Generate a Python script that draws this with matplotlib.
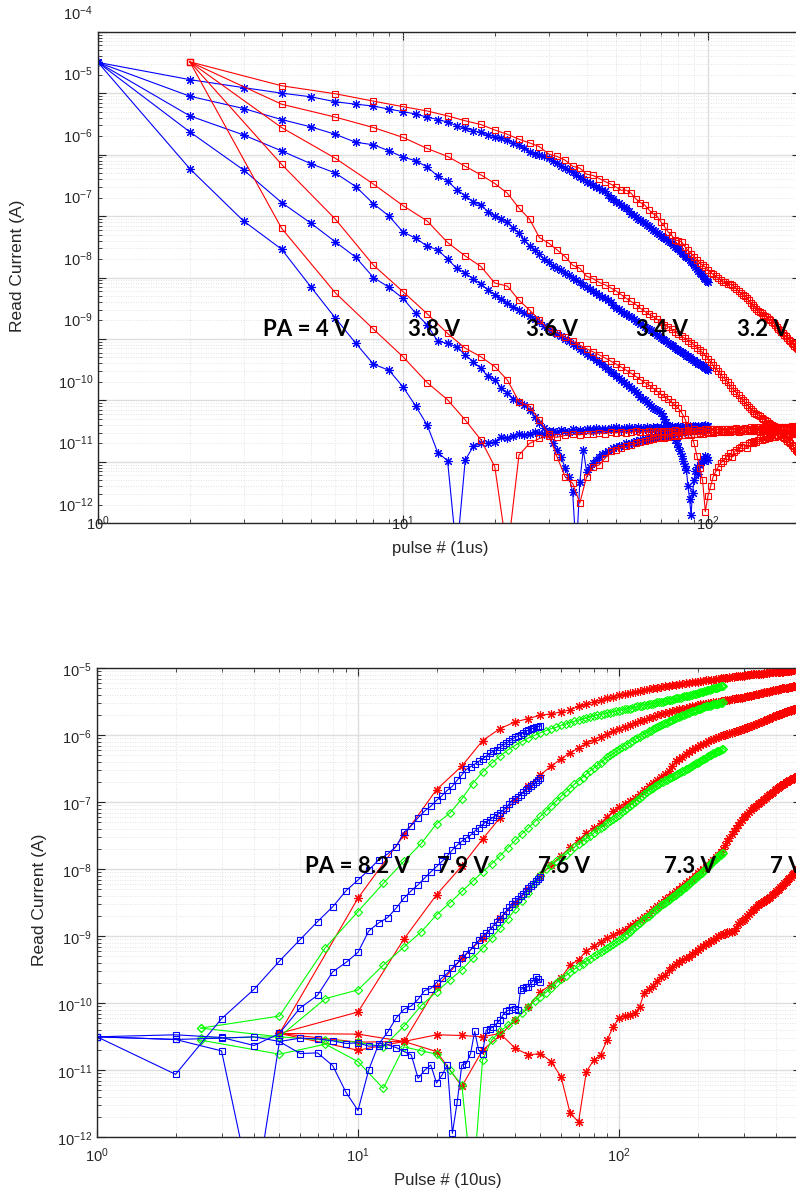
import numpy as np
import matplotlib
matplotlib.use("Agg")
import matplotlib.pyplot as plt
from matplotlib.ticker import LogLocator, NullFormatter
from matplotlib.transforms import ScaledTranslation, blended_transform_factory

plt.rcParams['font.family'] = ['Liberation Sans', 'DejaVu Sans']
plt.rcParams['mathtext.fontset'] = 'custom'
plt.rcParams['mathtext.rm'] = 'Liberation Sans'
plt.rcParams['mathtext.it'] = 'Liberation Sans:italic'
plt.rcParams['mathtext.bf'] = 'Liberation Sans:bold'

# ---------------------------------------------------------------------------
# Reset (erase) transient: pulse numbers of 1 us pulses
pulse_1us_star = np.arange(1, 101)          # every pulse
pulse_1us_square = np.arange(2, 201, 2)     # every second pulse

# log10 of read current (A) during reset, PA = 3.2 ... 4.0 V
log_i_star_32 = [
    -4.50, -4.78, -4.91, -5.00, -5.06, -5.14, -5.18, -5.21, -5.26, -5.30,
    -5.34, -5.39, -5.43, -5.47, -5.53, -5.57, -5.61, -5.64, -5.68, -5.71,
    -5.73, -5.76, -5.81, -5.84, -5.90, -5.95, -5.99, -6.01, -6.03, -6.06,
    -6.10, -6.14, -6.18, -6.21, -6.25, -6.29, -6.33, -6.36, -6.40, -6.44,
    -6.47, -6.50, -6.52, -6.55, -6.58, -6.60, -6.65, -6.70, -6.73, -6.77,
    -6.79, -6.82, -6.85, -6.87, -6.91, -6.96, -6.98, -7.01, -7.04, -7.06,
    -7.09, -7.12, -7.14, -7.17, -7.20, -7.23, -7.25, -7.28, -7.30, -7.33,
    -7.34, -7.36, -7.38, -7.40, -7.42, -7.44, -7.47, -7.50, -7.52, -7.54,
    -7.57, -7.60, -7.62, -7.65, -7.67, -7.69, -7.72, -7.74, -7.77, -7.80,
    -7.83, -7.86, -7.89, -7.92, -7.95, -7.97, -8.00, -8.02, -8.05, -8.07]
log_i_square_32 = [
    -4.49, -4.88, -5.01, -5.13, -5.22, -5.29, -5.37, -5.45, -5.51, -5.60,
    -5.67, -5.75, -5.81, -5.87, -5.99, -6.03, -6.09, -6.19, -6.22, -6.32,
    -6.34, -6.39, -6.44, -6.48, -6.53, -6.58, -6.58, -6.63, -6.72, -6.78,
    -6.82, -6.90, -6.96, -7.00, -7.09, -7.17, -7.26, -7.31, -7.39, -7.40,
    -7.42, -7.50, -7.56, -7.61, -7.66, -7.72, -7.76, -7.80, -7.83, -7.88,
    -7.92, -7.95, -7.98, -8.01, -8.04, -8.07, -8.08, -8.10, -8.11, -8.12,
    -8.15, -8.19, -8.22, -8.25, -8.28, -8.30, -8.33, -8.37, -8.41, -8.45,
    -8.48, -8.51, -8.54, -8.56, -8.58, -8.61, -8.63, -8.65, -8.67, -8.69,
    -8.72, -8.74, -8.77, -8.80, -8.83, -8.85, -8.88, -8.91, -8.94, -8.96,
    -8.99, -9.01, -9.03, -9.06, -9.09, -9.11, -9.13, -9.15, -9.17, -9.19]
log_i_star_34 = [
    -4.50, -5.05, -5.25, -5.43, -5.55, -5.67, -5.80, -5.84, -5.94, -6.04,
    -6.10, -6.20, -6.35, -6.43, -6.57, -6.67, -6.77, -6.82, -6.93, -7.00,
    -7.04, -7.09, -7.20, -7.28, -7.39, -7.49, -7.55, -7.62, -7.70, -7.75,
    -7.82, -7.85, -7.88, -7.92, -7.96, -8.00, -8.04, -8.08, -8.12, -8.15,
    -8.19, -8.22, -8.25, -8.28, -8.31, -8.34, -8.37, -8.40, -8.45, -8.49,
    -8.51, -8.54, -8.57, -8.59, -8.62, -8.64, -8.67, -8.70, -8.72, -8.75,
    -8.77, -8.80, -8.82, -8.84, -8.86, -8.88, -8.91, -8.93, -8.95, -8.98,
    -9.00, -9.02, -9.04, -9.06, -9.08, -9.10, -9.12, -9.14, -9.16, -9.18,
    -9.20, -9.22, -9.23, -9.25, -9.27, -9.28, -9.30, -9.32, -9.34, -9.35,
    -9.37, -9.38, -9.40, -9.41, -9.43, -9.44, -9.46, -9.47, -9.49, -9.50]
log_i_square_34 = [
    -4.49, -5.18, -5.39, -5.56, -5.72, -5.90, -6.03, -6.19, -6.33, -6.47,
    -6.63, -6.87, -7.05, -7.35, -7.44, -7.55, -7.66, -7.80, -7.85, -7.98,
    -8.02, -8.08, -8.12, -8.17, -8.22, -8.28, -8.34, -8.39, -8.44, -8.50,
    -8.55, -8.60, -8.63, -8.68, -8.72, -8.77, -8.80, -8.84, -8.88, -8.92,
    -8.96, -8.99, -9.03, -9.06, -9.10, -9.14, -9.18, -9.22, -9.27, -9.32,
    -9.37, -9.43, -9.48, -9.52, -9.57, -9.62, -9.66, -9.70, -9.75, -9.80,
    -9.84, -9.88, -9.92, -9.96, -10.00, -10.03, -10.07, -10.10, -10.14, -10.17,
    -10.20, -10.22, -10.24, -10.26, -10.28, -10.30, -10.32, -10.34, -10.36, -10.38,
    -10.40, -10.42, -10.44, -10.47, -10.50, -10.53, -10.56, -10.59, -10.61, -10.63,
    -10.66, -10.68, -10.70, -10.73, -10.75, -10.78, -10.80, -10.82, -10.84, -10.86]
log_i_star_36 = [
    -4.50, -5.37, -5.68, -5.94, -6.15, -6.30, -6.52, -6.80, -7.00, -7.26,
    -7.36, -7.49, -7.55, -7.70, -7.85, -7.93, -8.02, -8.11, -8.20, -8.28,
    -8.35, -8.42, -8.48, -8.53, -8.58, -8.63, -8.68, -8.73, -8.79, -8.84,
    -8.88, -8.92, -8.96, -9.00, -9.04, -9.08, -9.12, -9.16, -9.20, -9.24,
    -9.27, -9.30, -9.34, -9.38, -9.41, -9.45, -9.49, -9.53, -9.56, -9.60,
    -9.63, -9.66, -9.70, -9.73, -9.76, -9.80, -9.83, -9.86, -9.90, -9.94,
    -9.97, -10.00, -10.03, -10.06, -10.09, -10.12, -10.14, -10.16, -10.18, -10.21,
    -10.25, -10.30, -10.35, -10.41, -10.46, -10.52, -10.58, -10.64, -10.70, -10.76,
    -10.83, -10.90, -10.98, -11.06, -11.14, -11.40, -11.60, -11.87, -11.50, -11.30,
    -11.15, -11.09, -11.20, -11.05, -11.00, -10.95, -10.98, -10.90, -10.92, -10.97]
log_i_square_36 = [
    -4.49, -5.56, -6.06, -6.48, -6.83, -7.08, -7.43, -7.65, -7.82, -8.09,
    -8.14, -8.37, -8.53, -8.69, -8.85, -8.90, -8.97, -9.04, -9.10, -9.16,
    -9.21, -9.26, -9.31, -9.36, -9.41, -9.46, -9.51, -9.56, -9.61, -9.66,
    -9.71, -9.75, -9.80, -9.85, -9.90, -9.94, -9.98, -10.03, -10.08, -10.13,
    -10.20, -10.30, -10.42, -10.55, -10.70, -10.90, -11.10, -11.30, -11.81, -11.55,
    -11.40, -11.24, -11.16, -11.08, -11.02, -10.98, -10.94, -10.90, -10.86, -10.92,
    -10.84, -10.80, -10.78, -10.76, -10.73, -10.72, -10.78, -10.70, -10.68, -10.70,
    -10.66, -10.68, -10.64, -10.62, -10.65, -10.60, -10.63, -10.59, -10.61, -10.58,
    -10.60, -10.57, -10.59, -10.56, -10.58, -10.55, -10.57, -10.54, -10.56, -10.55,
    -10.53, -10.56, -10.54, -10.52, -10.55, -10.53, -10.54, -10.52, -10.55, -10.53]
log_i_star_38 = [
    -4.50, -5.63, -6.25, -6.78, -7.12, -7.42, -7.67, -8.00, -8.16, -8.34,
    -8.58, -8.77, -9.04, -9.07, -9.13, -9.26, -9.37, -9.48, -9.61, -9.66,
    -9.80, -9.88, -9.97, -10.02, -10.07, -10.16, -10.27, -10.37, -10.45, -10.56,
    -10.70, -10.81, -10.92, -11.10, -11.24, -11.49, -12.50, -11.32, -10.80, -11.16,
    -11.08, -11.02, -10.97, -10.92, -10.88, -10.85, -10.82, -10.80, -10.78, -10.76,
    -10.75, -10.74, -10.72, -10.70, -10.71, -10.69, -10.68, -10.66, -10.67, -10.65,
    -10.64, -10.63, -10.64, -10.62, -10.60, -10.61, -10.59, -10.60, -10.58, -10.57,
    -10.58, -10.56, -10.55, -10.57, -10.54, -10.55, -10.53, -10.54, -10.52, -10.53,
    -10.51, -10.53, -10.50, -10.52, -10.50, -10.51, -10.49, -10.50, -10.48, -10.50,
    -10.48, -10.49, -10.47, -10.49, -10.46, -10.48, -10.47, -10.45, -10.47, -10.46]
log_i_square_38 = [
    -4.49, -6.16, -7.05, -7.80, -8.23, -8.59, -8.91, -9.15, -9.29, -9.45,
    -9.67, -10.02, -10.10, -10.32, -10.54, -10.92, -11.24, -11.35, -11.67, -11.24,
    -11.08, -11.05, -10.94, -10.83, -10.80, -10.77, -10.75, -10.72, -10.70, -10.68,
    -10.66, -10.65, -10.63, -10.62, -10.60, -10.61, -10.59, -10.58, -10.57, -10.58,
    -10.56, -10.57, -10.55, -10.56, -10.54, -10.55, -10.53, -10.54, -10.52, -10.53,
    -10.52, -10.53, -10.51, -10.52, -10.50, -10.52, -10.51, -10.49, -10.51, -10.50,
    -10.50, -10.49, -10.51, -10.48, -10.50, -10.49, -10.50, -10.48, -10.49, -10.50,
    -10.48, -10.49, -10.47, -10.49, -10.48, -10.50, -10.47, -10.48, -10.49, -10.47,
    -10.48, -10.46, -10.48, -10.47, -10.49, -10.46, -10.48, -10.47, -10.46, -10.48,
    -10.47, -10.46, -10.48, -10.45, -10.47, -10.46, -10.48, -10.45, -10.47, -10.46]
log_i_star_40 = [
    -4.50, -6.23, -7.08, -7.54, -8.16, -8.66, -9.07, -9.41, -9.51, -9.78,
    -10.09, -10.40, -10.85, -10.98, -12.50, -10.97, -10.75, -10.70, -10.70, -10.67,
    -10.59, -10.62, -10.58, -10.55, -10.57, -10.54, -10.52, -10.53, -10.55, -10.50,
    -10.49, -10.52, -10.48, -10.50, -10.51, -10.47, -10.49, -10.48, -10.50, -10.46,
    -10.47, -10.49, -10.45, -10.48, -10.47, -10.46, -10.48, -10.45, -10.47, -10.44,
    -10.46, -10.48, -10.45, -10.47, -10.44, -10.46, -10.45, -10.47, -10.43, -10.46,
    -10.45, -10.47, -10.44, -10.45, -10.46, -10.43, -10.45, -10.44, -10.46, -10.43,
    -10.44, -10.45, -10.43, -10.46, -10.44, -10.42, -10.45, -10.43, -10.44, -10.42,
    -10.44, -10.43, -10.45, -10.42, -10.44, -10.43, -10.41, -10.44, -10.42, -10.43,
    -10.41, -10.43, -10.42, -10.44, -10.41, -10.43, -10.42, -10.40, -10.42, -10.41]
log_i_square_40 = [
    -4.49, -7.20, -8.25, -8.84, -9.29, -9.71, -9.99, -10.32, -10.64, -11.08,
    -12.50, -10.89, -10.70, -10.62, -10.58, -10.60, -10.57, -10.55, -10.56, -10.54,
    -10.55, -10.53, -10.54, -10.52, -10.53, -10.51, -10.53, -10.52, -10.50, -10.52,
    -10.51, -10.50, -10.52, -10.49, -10.51, -10.50, -10.49, -10.51, -10.48, -10.50,
    -10.49, -10.50, -10.48, -10.49, -10.47, -10.49, -10.48, -10.50, -10.47, -10.48,
    -10.47, -10.49, -10.46, -10.48, -10.47, -10.49, -10.46, -10.47, -10.48, -10.46,
    -10.47, -10.45, -10.48, -10.46, -10.47, -10.45, -10.47, -10.46, -10.44, -10.47,
    -10.45, -10.46, -10.44, -10.47, -10.45, -10.46, -10.44, -10.46, -10.45, -10.43,
    -10.46, -10.44, -10.45, -10.43, -10.46, -10.44, -10.45, -10.43, -10.44, -10.45,
    -10.43, -10.45, -10.44, -10.42, -10.45, -10.43, -10.44, -10.42, -10.44, -10.43]

reset_labels = ['PA = 4 V', '3.8 V', '3.6 V', '3.4 V', '3.2 V']

# ---------------------------------------------------------------------------
# Set (program) transient: pulse numbers of 10 us pulses
pulse_10us_square = np.arange(1, 51)
pulse_10us_diamond = np.arange(1, 101) * 2.5
pulse_10us_star = np.arange(1, 101) * 5

# log10 of read current (A) during set, PA = 7.0 ... 8.2 V
log_i_sq_82 = [
    -10.50, -11.06, -10.23, -9.79, -9.37, -9.05, -8.78, -8.56, -8.32, -8.16,
    -8.01, -7.86, -7.77, -7.66, -7.45, -7.35, -7.23, -7.13, -7.06, -6.97,
    -6.90, -6.82, -6.76, -6.67, -6.59, -6.51, -6.47, -6.43, -6.39, -6.35,
    -6.31, -6.27, -6.24, -6.22, -6.18, -6.15, -6.12, -6.09, -6.06, -6.03,
    -6.01, -5.99, -5.96, -5.94, -5.92, -5.91, -5.89, -5.88, -5.87, -5.86]
log_i_sq_79 = [
    -10.50, -10.47, -10.51, -10.63, -10.45, -10.07, -9.88, -9.53, -9.39, -9.24,
    -8.92, -8.80, -8.72, -8.58, -8.43, -8.32, -8.23, -8.13, -8.04, -7.96,
    -7.88, -7.80, -7.71, -7.64, -7.58, -7.53, -7.49, -7.43, -7.38, -7.33,
    -7.29, -7.26, -7.22, -7.19, -7.16, -7.12, -7.08, -7.02, -6.98, -6.95,
    -6.92, -6.89, -6.85, -6.82, -6.79, -6.76, -6.73, -6.70, -6.67, -6.64]
log_i_sq_76 = [
    -10.50, -10.54, -10.71, -13.00, -10.57, -10.75, -10.74, -10.93, -11.33, -11.60,
    -10.99, -10.61, -10.43, -10.22, -10.09, -10.04, -9.94, -9.81, -9.78, -9.69,
    -9.62, -9.55, -9.47, -9.40, -9.33, -9.26, -9.20, -9.13, -9.06, -9.00,
    -8.95, -8.90, -8.84, -8.79, -8.74, -8.68, -8.62, -8.57, -8.52, -8.48,
    -8.44, -8.40, -8.37, -8.33, -8.28, -8.25, -8.22, -8.17, -8.14, -8.11]
log_i_sq_73 = [
    -10.50, -10.54, -10.52, -10.50, -10.57, -10.52, -10.53, -10.56, -10.60, -10.59,
    -10.64, -10.63, -10.62, -10.66, -10.72, -10.77, -11.12, -11.00, -10.92, -11.19,
    -11.07, -10.92, -11.94, -11.47, -10.92, -10.90, -10.75, -10.42, -10.70, -10.75,
    -10.40, -10.38, -10.35, -10.30, -10.25, -10.17, -10.12, -10.10, -10.05, -10.08,
    -10.10, -9.80, -9.77, -9.76, -9.75, -9.70, -9.66, -9.61, -9.64, -9.68]

log_i_dia_82 = [
    -10.37, -10.19, -9.17, -8.63, -8.21, -7.88, -7.61, -7.32, -7.16, -6.95,
    -6.72, -6.55, -6.42, -6.31, -6.22, -6.15, -6.09, -6.04, -6.00, -5.96,
    -5.93, -5.90, -5.88, -5.85, -5.83, -5.81, -5.79, -5.77, -5.76, -5.74,
    -5.72, -5.71, -5.70, -5.69, -5.68, -5.67, -5.66, -5.65, -5.64, -5.63,
    -5.62, -5.61, -5.60, -5.60, -5.59, -5.58, -5.57, -5.57, -5.56, -5.55,
    -5.55, -5.54, -5.53, -5.53, -5.52, -5.51, -5.51, -5.50, -5.50, -5.49,
    -5.48, -5.48, -5.47, -5.47, -5.46, -5.45, -5.45, -5.44, -5.44, -5.43,
    -5.42, -5.42, -5.41, -5.41, -5.40, -5.40, -5.39, -5.38, -5.38, -5.37,
    -5.37, -5.36, -5.35, -5.35, -5.34, -5.34, -5.33, -5.33, -5.32, -5.31,
    -5.31, -5.30, -5.30, -5.29, -5.29, -5.28, -5.28, -5.27, -5.27, -5.26]
log_i_dia_79 = [
    -10.52, -10.50, -9.93, -9.80, -9.43, -9.16, -8.93, -8.68, -8.50, -8.33,
    -8.18, -8.04, -7.92, -7.80, -7.68, -7.57, -7.47, -7.38, -7.29, -7.21,
    -7.13, -7.05, -6.98, -6.91, -6.85, -6.79, -6.73, -6.68, -6.63, -6.58,
    -6.53, -6.49, -6.45, -6.41, -6.37, -6.33, -6.30, -6.27, -6.24, -6.21,
    -6.18, -6.16, -6.13, -6.11, -6.08, -6.06, -6.04, -6.02, -6.00, -5.98,
    -5.96, -5.94, -5.93, -5.91, -5.89, -5.88, -5.86, -5.85, -5.83, -5.82,
    -5.81, -5.79, -5.78, -5.77, -5.76, -5.74, -5.73, -5.72, -5.71, -5.70,
    -5.69, -5.68, -5.67, -5.66, -5.65, -5.64, -5.63, -5.63, -5.62, -5.61,
    -5.60, -5.60, -5.59, -5.58, -5.58, -5.57, -5.57, -5.56, -5.56, -5.55,
    -5.55, -5.54, -5.54, -5.53, -5.53, -5.53, -5.52, -5.52, -5.52, -5.51]
log_i_dia_76 = [
    -10.37, -10.50, -10.55, -10.58, -10.65, -10.34, -10.03, -9.83, -9.65, -9.50,
    -9.33, -9.18, -9.03, -8.88, -8.74, -8.60, -8.47, -8.35, -8.21, -8.08,
    -8.00, -7.93, -7.88, -7.83, -7.78, -7.72, -7.67, -7.62, -7.58, -7.54,
    -7.50, -7.46, -7.42, -7.38, -7.35, -7.31, -7.28, -7.25, -7.22, -7.19,
    -7.15, -7.12, -7.08, -7.05, -7.02, -6.99, -6.96, -6.93, -6.91, -6.88,
    -6.85, -6.82, -6.80, -6.78, -6.76, -6.74, -6.72, -6.70, -6.69, -6.67,
    -6.66, -6.64, -6.63, -6.62, -6.60, -6.59, -6.58, -6.57, -6.55, -6.54,
    -6.53, -6.51, -6.50, -6.49, -6.47, -6.46, -6.45, -6.43, -6.42, -6.41,
    -6.40, -6.38, -6.37, -6.36, -6.35, -6.34, -6.33, -6.31, -6.30, -6.29,
    -6.28, -6.27, -6.26, -6.25, -6.24, -6.24, -6.23, -6.22, -6.21, -6.20]
log_i_dia_73 = [
    -10.55, -10.76, -10.61, -10.87, -11.27, -10.65, -10.71, -10.76, -11.00, -11.22,
    -12.80, -10.85, -10.55, -10.42, -10.33, -10.25, -10.15, -10.05, -9.97, -9.90,
    -9.84, -9.77, -9.70, -9.63, -9.59, -9.54, -9.49, -9.45, -9.41, -9.37,
    -9.34, -9.30, -9.27, -9.24, -9.21, -9.18, -9.15, -9.12, -9.09, -9.06,
    -9.03, -8.99, -8.96, -8.93, -8.89, -8.86, -8.83, -8.80, -8.77, -8.74,
    -8.71, -8.69, -8.66, -8.64, -8.61, -8.59, -8.56, -8.54, -8.52, -8.50,
    -8.48, -8.46, -8.44, -8.42, -8.40, -8.38, -8.36, -8.34, -8.32, -8.30,
    -8.28, -8.26, -8.24, -8.22, -8.20, -8.18, -8.16, -8.14, -8.12, -8.10,
    -8.09, -8.07, -8.05, -8.03, -8.01, -7.99, -7.97, -7.95, -7.93, -7.91,
    -7.89, -7.88, -7.86, -7.84, -7.82, -7.81, -7.79, -7.78, -7.76, -7.75]

log_i_st_82 = [
    -10.45, -8.43, -7.49, -6.81, -6.46, -6.08, -5.90, -5.80, -5.75, -5.70,
    -5.68, -5.65, -5.62, -5.57, -5.54, -5.50, -5.48, -5.45, -5.43, -5.40,
    -5.39, -5.37, -5.36, -5.34, -5.32, -5.31, -5.30, -5.29, -5.28, -5.27,
    -5.26, -5.25, -5.25, -5.24, -5.23, -5.22, -5.22, -5.21, -5.21, -5.20,
    -5.19, -5.19, -5.18, -5.18, -5.17, -5.17, -5.16, -5.16, -5.15, -5.15,
    -5.14, -5.14, -5.13, -5.13, -5.13, -5.12, -5.12, -5.11, -5.11, -5.11,
    -5.10, -5.10, -5.10, -5.09, -5.09, -5.09, -5.09, -5.08, -5.08, -5.08,
    -5.08, -5.07, -5.07, -5.07, -5.07, -5.06, -5.06, -5.06, -5.06, -5.06,
    -5.05, -5.05, -5.05, -5.05, -5.05, -5.04, -5.04, -5.04, -5.04, -5.04,
    -5.04, -5.03, -5.03, -5.03, -5.03, -5.03, -5.03, -5.02, -5.02, -5.02]
log_i_st_79 = [
    -10.45, -10.13, -9.04, -8.38, -7.95, -7.55, -7.23, -6.97, -6.76, -6.59,
    -6.46, -6.35, -6.26, -6.19, -6.12, -6.07, -6.02, -5.98, -5.94, -5.90,
    -5.87, -5.84, -5.81, -5.79, -5.77, -5.74, -5.72, -5.70, -5.68, -5.66,
    -5.65, -5.63, -5.62, -5.61, -5.60, -5.59, -5.58, -5.57, -5.56, -5.55,
    -5.54, -5.54, -5.53, -5.52, -5.52, -5.51, -5.50, -5.50, -5.49, -5.49,
    -5.48, -5.48, -5.47, -5.46, -5.46, -5.45, -5.45, -5.44, -5.44, -5.43,
    -5.43, -5.42, -5.42, -5.41, -5.40, -5.40, -5.39, -5.39, -5.38, -5.37,
    -5.37, -5.36, -5.36, -5.35, -5.35, -5.34, -5.34, -5.33, -5.33, -5.32,
    -5.32, -5.31, -5.31, -5.30, -5.30, -5.30, -5.29, -5.29, -5.29, -5.28,
    -5.28, -5.28, -5.27, -5.27, -5.27, -5.26, -5.26, -5.26, -5.26, -5.25]
log_i_st_76 = [
    -10.45, -10.58, -10.57, -9.76, -9.33, -9.03, -8.73, -8.51, -8.30, -8.10,
    -7.93, -7.80, -7.67, -7.56, -7.46, -7.38, -7.31, -7.22, -7.13, -7.07,
    -7.02, -6.98, -6.94, -6.87, -6.82, -6.76, -6.71, -6.66, -6.62, -6.58,
    -6.53, -6.46, -6.39, -6.35, -6.32, -6.28, -6.25, -6.22, -6.19, -6.17,
    -6.15, -6.13, -6.11, -6.09, -6.07, -6.06, -6.04, -6.03, -6.01, -6.00,
    -5.99, -5.98, -5.97, -5.96, -5.95, -5.94, -5.93, -5.92, -5.91, -5.90,
    -5.89, -5.88, -5.87, -5.86, -5.85, -5.84, -5.83, -5.82, -5.81, -5.80,
    -5.79, -5.78, -5.77, -5.76, -5.75, -5.74, -5.73, -5.72, -5.71, -5.70,
    -5.70, -5.69, -5.68, -5.67, -5.67, -5.66, -5.65, -5.64, -5.64, -5.63,
    -5.63, -5.62, -5.61, -5.61, -5.60, -5.60, -5.59, -5.59, -5.58, -5.58]
log_i_st_73 = [
    -10.45, -10.70, -10.57, -10.72, -11.24, -10.70, -10.48, -10.25, -10.05, -9.83,
    -9.72, -9.62, -9.43, -9.35, -9.22, -9.15, -9.08, -9.02, -8.98, -8.94,
    -8.90, -8.85, -8.80, -8.76, -8.71, -8.65, -8.60, -8.55, -8.50, -8.45,
    -8.41, -8.37, -8.33, -8.29, -8.25, -8.21, -8.18, -8.14, -8.10, -8.06,
    -8.03, -7.99, -7.96, -7.93, -7.89, -7.86, -7.82, -7.78, -7.74, -7.70,
    -7.64, -7.58, -7.53, -7.48, -7.43, -7.38, -7.34, -7.30, -7.26, -7.22,
    -7.20, -7.17, -7.14, -7.11, -7.09, -7.07, -7.05, -7.03, -7.01, -6.99,
    -6.97, -6.95, -6.93, -6.91, -6.89, -6.87, -6.86, -6.84, -6.82, -6.80,
    -6.79, -6.77, -6.76, -6.74, -6.73, -6.72, -6.70, -6.69, -6.68, -6.67,
    -6.66, -6.65, -6.64, -6.63, -6.62, -6.61, -6.60, -6.59, -6.58, -6.57]
log_i_st_70 = [
    -10.45, -10.46, -10.57, -10.47, -10.48, -10.50, -10.45, -10.67, -10.77, -10.75,
    -10.87, -11.10, -11.64, -11.77, -11.02, -10.85, -10.77, -10.55, -10.35, -10.22,
    -10.19, -10.17, -10.15, -10.05, -9.84, -9.78, -9.74, -9.66, -9.61, -9.58,
    -9.51, -9.46, -9.42, -9.38, -9.35, -9.33, -9.31, -9.27, -9.23, -9.20,
    -9.18, -9.15, -9.12, -9.10, -9.07, -9.05, -9.03, -9.00, -8.98, -8.97,
    -8.96, -8.94, -8.94, -8.93, -8.92, -8.87, -8.82, -8.79, -8.77, -8.75,
    -8.72, -8.69, -8.66, -8.63, -8.61, -8.59, -8.57, -8.54, -8.52, -8.50,
    -8.49, -8.47, -8.46, -8.45, -8.43, -8.41, -8.39, -8.37, -8.35, -8.33,
    -8.31, -8.29, -8.27, -8.25, -8.23, -8.21, -8.19, -8.17, -8.15, -8.13,
    -8.11, -8.09, -8.07, -8.05, -8.03, -8.01, -7.99, -7.97, -7.95, -7.93]

set_labels = ['PA = 8.2 V', '7.9 V', '7.6 V', '7.3 V', '7 V']

# ---------------------------------------------------------------------------
W, H = 796, 1192
DARK = '#262626'
BLUE, RED, GREEN = '#0000ff', '#ff0000', '#00ff00'

fig = plt.figure(figsize=(W / 100, H / 100), dpi=100)


def axes_px(left, top, right, bottom):
    return fig.add_axes([left / W, 1 - bottom / H, (right - left) / W, (bottom - top) / H])


def style_axes(ax, xlim, ylim):
    ax.set_xscale('log')
    ax.set_yscale('log')
    ax.set_xlim(*xlim)
    ax.set_ylim(*ylim)
    for axis in (ax.xaxis, ax.yaxis):
        axis.set_major_locator(LogLocator(base=10, numticks=30))
        axis.set_minor_locator(LogLocator(base=10, subs=np.arange(2, 10), numticks=30))
        axis.set_minor_formatter(NullFormatter())
    ax.tick_params(which='both', direction='in', top=True, right=True,
                   labelleft=False, labelbottom=False, color=DARK)
    ax.tick_params(which='major', length=6, width=0.8)
    ax.tick_params(which='minor', length=3, width=0.6)
    ax.grid(True, which='major', color='#dedede', lw=1.0, ls='-')
    ax.grid(True, which='minor', color='#d9d9d9', lw=0.6, ls=(0, (1, 2)))
    ax.set_axisbelow(True)
    for sp in ax.spines.values():
        sp.set_color(DARK)
        sp.set_linewidth(1.0)


def decade_labels(ax, xdecades, ydecades, ylab_dy, xlab_dy):
    ty = blended_transform_factory(ax.transAxes, ax.transData)
    tx = blended_transform_factory(ax.transData, ax.transAxes)
    for d in ydecades:
        ax.text(0, 10.0 ** d, r'$\mathregular{10^{%d}}$' % d,
                transform=ty + ScaledTranslation(-5 / 100, ylab_dy / 100, fig.dpi_scale_trans),
                ha='right', va='center', fontsize=10.5, color=DARK, clip_on=False)
    for d in xdecades:
        ax.text(10.0 ** d, 0, r'$\mathregular{10^{%d}}$' % d,
                transform=tx + ScaledTranslation(0, xlab_dy / 100, fig.dpi_scale_trans),
                ha='center', va='center', fontsize=10.5, color=DARK, clip_on=False)


def trace(ax, x, logy, color, marker, ms, mew=0.8):
    y = 10.0 ** np.asarray(logy)
    ax.plot(x[:len(y)], y, color=color, lw=0.8, marker=marker, ms=ms,
            mfc='none', mec=color, mew=mew, clip_on=True)


ASTER = (8, 2, 0)

# ---------------- reset panel ----------------
ax1 = axes_px(98, 31.7, 799.8, 523.3)
style_axes(ax1, (1, 200), (1e-12, 1e-4))

for logy in (log_i_star_32, log_i_star_34, log_i_star_36, log_i_star_38, log_i_star_40):
    trace(ax1, pulse_1us_star, logy, BLUE, ASTER, 6.2)
for logy in (log_i_square_32, log_i_square_34, log_i_square_36, log_i_square_38, log_i_square_40):
    trace(ax1, pulse_1us_square, logy, RED, 's', 5.0)

reset_label_x = [3.48, 10.4, 25.3, 58.1, 124.5]
for txt, xv in zip(reset_labels, reset_label_x):
    ax1.text(xv, 1.40e-9, txt, fontsize=16, fontweight='bold', family='Lato',
             color='black', ha='left', va='center', clip_on=False)

decade_labels(ax1, range(0, 3), range(-12, -3), ylab_dy=18, xlab_dy=0)
fig.text(440 / W, 1 - 549 / H, 'pulse # (1us)', fontsize=12, color=DARK,
         ha='center', va='center')
fig.text(18 / W, 1 - 266 / H, 'Read Current (A)', fontsize=12.5, color=DARK,
         ha='center', va='center', rotation=90)

# ---------------- set panel ----------------
ax2 = axes_px(97, 668.3, 801.4, 1137.3)
style_axes(ax2, (1, 500), (1e-12, 1e-5))

for logy in (log_i_st_82, log_i_st_79, log_i_st_76, log_i_st_73, log_i_st_70):
    trace(ax2, pulse_10us_star, logy, RED, ASTER, 6.2)
for logy in (log_i_dia_82, log_i_dia_79, log_i_dia_76, log_i_dia_73):
    trace(ax2, pulse_10us_diamond, logy, GREEN, 'D', 4.5)
for logy in (log_i_sq_82, log_i_sq_79, log_i_sq_76, log_i_sq_73):
    trace(ax2, pulse_10us_square, logy, BLUE, 's', 5.0)

set_label_x = [6.27, 20.1, 48.9, 148.7, 379]
for txt, xv in zip(set_labels, set_label_x):
    ax2.text(xv, 1.12e-8, txt, fontsize=16, fontweight='bold', family='Lato',
             color='black', ha='left', va='center', clip_on=False)

decade_labels(ax2, range(0, 3), range(-12, -4), ylab_dy=-2, xlab_dy=-18)
fig.text(448 / W, 1 - 1180 / H, 'Pulse # (10us)', fontsize=12, color=DARK,
         ha='center', va='center')
fig.text(40 / W, 1 - 900 / H, 'Read Current (A)', fontsize=12.5, color=DARK,
         ha='center', va='center', rotation=90)

fig.savefig('out.png', dpi=100)
